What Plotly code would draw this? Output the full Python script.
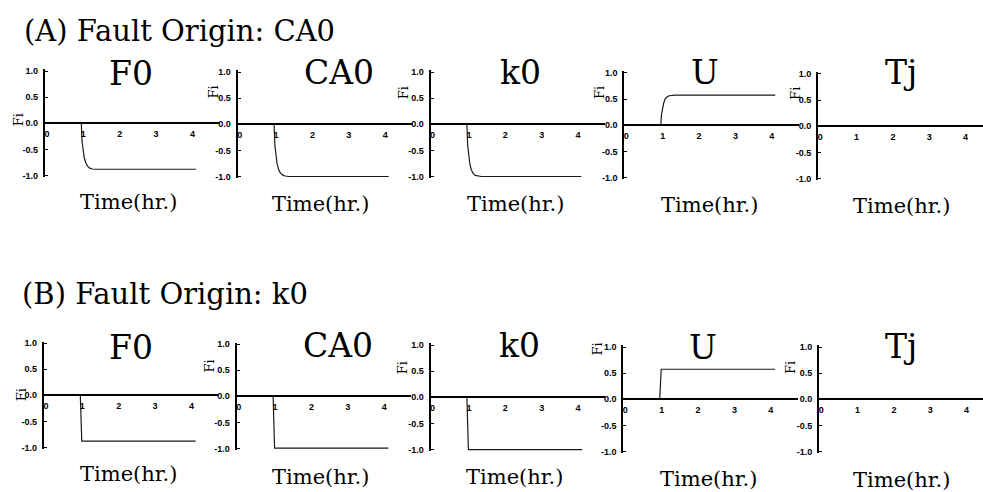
import plotly.graph_objects as go

# ---- data -------------------------------------------------------------
variables = ["F0", "CA0", "k0", "U", "Tj"]
row_titles = ["(A) Fault Origin: CA0", "(B) Fault Origin: k0"]
y_tick_vals = [-1.0, -0.5, 0.0, 0.5, 1.0]
y_tick_text = ["-1.0", "-0.5", "0.0", "0.5", "1.0"]
x_tick_vals = [0, 1, 2, 3, 4]
x_tick_text = ["0", "1", "2", "3", "4"]
axis_label_x = "Time(hr.)"
axis_label_y = "Fi"

# (A) fault in CA0: first-order style responses after t = 1 hr
time_A = [0.0, 1.0, 1.02, 1.05, 1.08, 1.12, 1.17, 1.23, 1.30, 1.40, 4.15]
F0_A = [0.0, 0.0, -0.35, -0.55, -0.66, -0.75, -0.82, -0.86, -0.875, -0.88, -0.88]
CA0_A = [0.0, 0.0, -0.40, -0.62, -0.75, -0.86, -0.93, -0.97, -0.99, -1.0, -1.0]
k0_A = [0.0, 0.0, -0.40, -0.63, -0.76, -0.87, -0.94, -0.98, -0.99, -1.0, -1.0]
U_A = [0.0, 0.0, 0.20, 0.33, 0.42, 0.50, 0.54, 0.565, 0.57, 0.575, 0.575]
Tj_A = [0.0, 0.0, 0.0, 0.0, 0.0, 0.0, 0.0, 0.0, 0.0, 0.0, 0.0]

# (B) fault in k0: step responses at t = 1 hr
time_B = [0.0, 1.0, 1.04, 4.17]
F0_B = [0.0, 0.0, -0.875, -0.875]
CA0_B = [0.0, 0.0, -0.99, -0.99]
k0_B = [0.0, 0.0, -1.0, -1.0]
U_B = [0.0, 0.0, 0.575, 0.575]
Tj_B = [0.0, 0.0, 0.0, 0.0]

rows = [
    (time_A, [F0_A, CA0_A, k0_A, U_A, Tj_A]),
    (time_B, [F0_B, CA0_B, k0_B, U_B, Tj_B]),
]

# ---- page geometry (pixels) ------------------------------------------
W, H = 983, 492
UX, UY = 36.4, 53.0          # px per hour, px per unit Fi
Y_HALF = 1.03                # y-axis half height in data units
X_SPAN = 4.8                 # hours shown on each time axis

# left edge (t = 0) and zero line of every panel
panel_x0 = [[44, 237, 430, 624, 818], [43, 236, 430, 623, 819]]
panel_y0 = [[122, 123, 123, 124, 125], [398, 399, 400, 402, 402]]

title_pos = [
    [(130, 72), (338, 70), (520, 70), (705, 70), (901, 71)],
    [(130, 349), (337, 347), (519, 347), (703, 349), (901, 348)],
]
time_pos = [
    [(128, 202), (320, 204), (515, 204), (709, 205), (901, 206)],
    [(128, 478), (320, 481), (514, 481), (708, 483), (901, 484)],
]
fi_pos = [
    [(17, 118), (213, 90), (403, 91), (599, 91), (795, 92)],
    [(20, 397), (209, 368), (402, 370), (597, 351), (791, 370)],
]
row_title_pos = [(179, 28), (164, 295)]

SERIF = "DejaVu Serif"
SANS = "Liberation Sans"

fig = go.Figure()
layout = dict(
    width=W, height=H,
    margin=dict(l=0, r=0, t=0, b=0),
    paper_bgcolor="white", plot_bgcolor="white",
    showlegend=False,
)
annotations = []

n = 0
for r, (t, series) in enumerate(rows):
    for c, name in enumerate(variables):
        n += 1
        sfx = "" if n == 1 else str(n)
        x0 = panel_x0[r][c]
        y0 = panel_y0[r][c]
        right_px = min(x0 + X_SPAN * UX, W)
        x_end = (right_px - x0) / UX
        top_px = y0 - Y_HALF * UY
        bot_px = y0 + Y_HALF * UY

        fig.add_trace(go.Scatter(
            x=t, y=series[c], mode="lines",
            line=dict(color="#1a1a1a", width=1.2),
            xaxis="x" + sfx, yaxis="y" + sfx,
            hoverinfo="skip",
        ))

        layout["xaxis" + sfx] = dict(
            domain=[x0 / W, right_px / W],
            range=[0, x_end],
            anchor="free",
            position=1 - y0 / H,
            showline=True, linecolor="black", linewidth=2.2,
            showgrid=False, zeroline=False,
            ticks="", tickvals=x_tick_vals, ticktext=x_tick_text,
            tickfont=dict(family=SANS, size=9, color="black", weight="bold"),
            ticklabelstandoff=2, ticklabelshift=2,
            fixedrange=True,
        )
        layout["yaxis" + sfx] = dict(
            domain=[1 - bot_px / H, 1 - top_px / H],
            range=[-Y_HALF, Y_HALF],
            anchor="x" + sfx,
            showline=True, linecolor="black", linewidth=2.2,
            showgrid=False, zeroline=False,
            ticks="inside", ticklen=3, tickwidth=1, tickcolor="black",
            tickvals=y_tick_vals, ticktext=y_tick_text,
            tickfont=dict(family=SANS, size=9, color="black", weight="bold"),
            ticklabelstandoff=3,
            fixedrange=True,
        )

        tx, ty = title_pos[r][c]
        annotations.append(dict(
            text=name, x=tx / W, y=1 - ty / H, xref="paper", yref="paper",
            xanchor="center", yanchor="middle", showarrow=False,
            font=dict(family=SERIF, size=33, color="black"),
        ))
        lx, ly = time_pos[r][c]
        annotations.append(dict(
            text=axis_label_x, x=lx / W, y=1 - ly / H, xref="paper", yref="paper",
            xanchor="center", yanchor="middle", showarrow=False,
            font=dict(family=SERIF, size=21, color="black"),
        ))
        fx, fy = fi_pos[r][c]
        annotations.append(dict(
            text=axis_label_y, x=fx / W, y=1 - fy / H, xref="paper", yref="paper",
            xanchor="center", yanchor="middle", showarrow=False, textangle=-90,
            font=dict(family=SERIF, size=13, color="black"),
        ))

for (px, py), txt in zip(row_title_pos, row_titles):
    annotations.append(dict(
        text=txt, x=px / W, y=1 - py / H, xref="paper", yref="paper",
        xanchor="center", yanchor="middle", showarrow=False,
        font=dict(family=SERIF, size=29, color="black"),
    ))

layout["annotations"] = annotations
fig.update_layout(**layout)
fig.write_html("out.html")
